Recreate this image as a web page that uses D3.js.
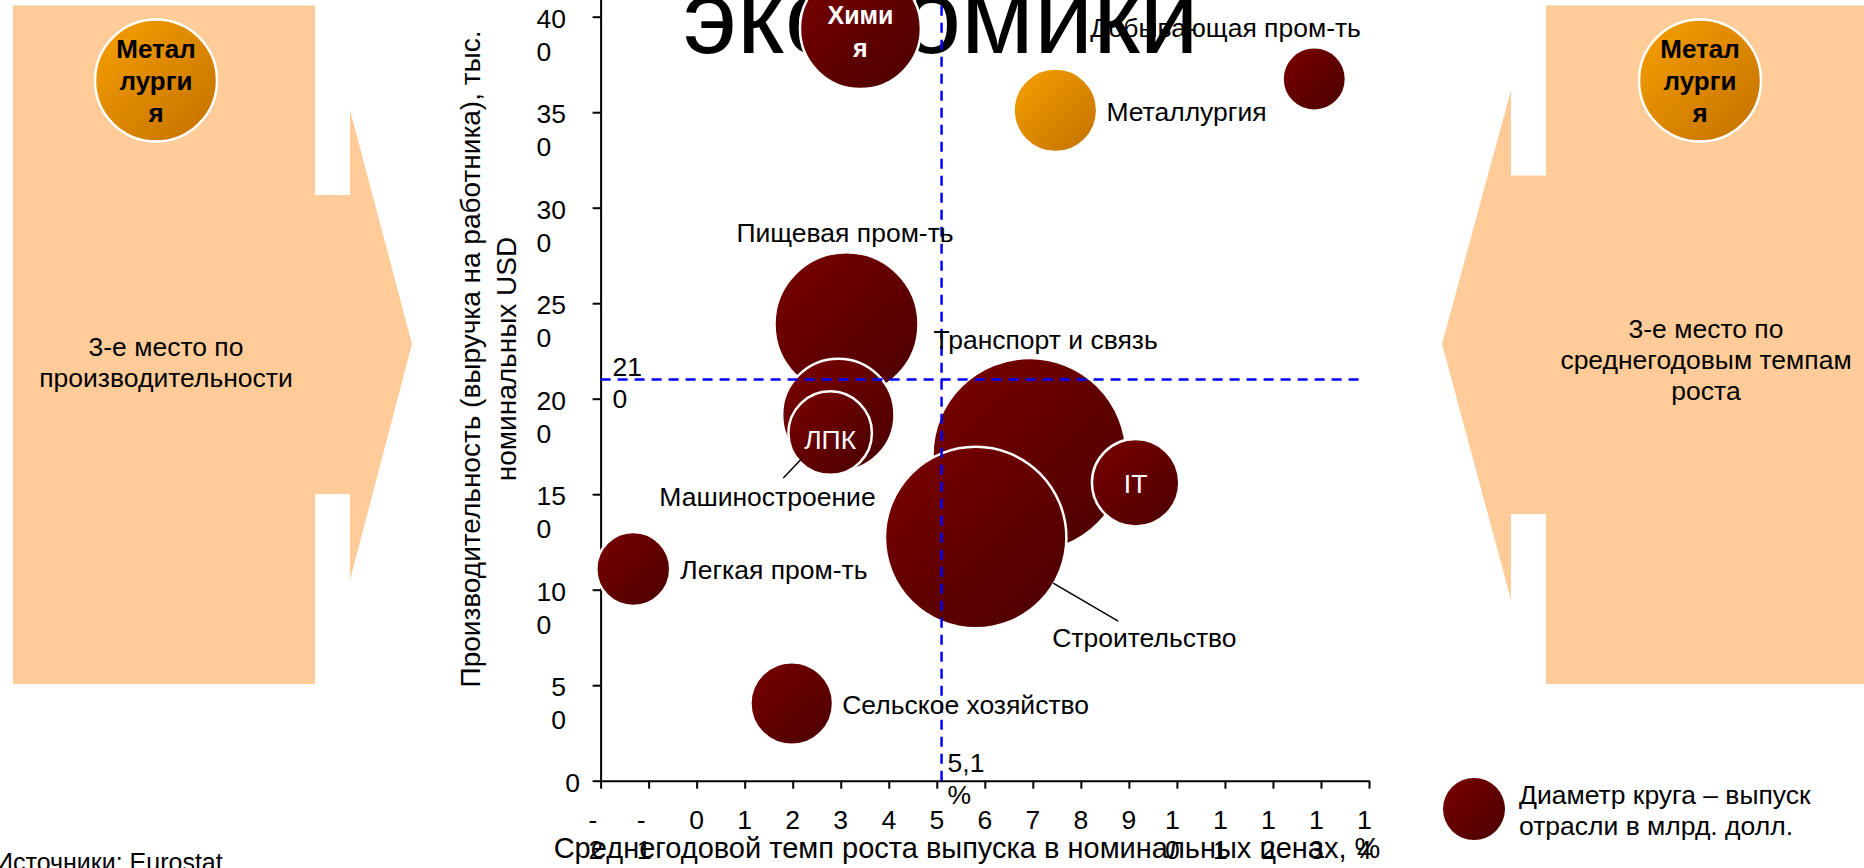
<!DOCTYPE html>
<html><head><meta charset="utf-8">
<script src="https://cdn.jsdelivr.net/npm/d3@7/dist/d3.min.js"></script>
<style>
html,body{margin:0;padding:0;background:#fff;overflow:hidden}
svg{display:block;font-family:"Liberation Sans",Arial,sans-serif}
</style>
</head><body>
<svg id="c" width="1864" height="868"></svg>
<script>
// ---------- DATA ----------
const sectors = ["Пищевая пром-ть","Машиностроение","ЛПК","Транспорт и связь","Строительство","IT",
                 "Химия","Металлургия","Добывающая пром-ть","Легкая пром-ть","Сельское хозяйство"];
const growth       = [3.12, 2.95, 2.78, 6.93, 5.81, 9.14, 3.41, 7.47, 12.86, -1.32, 1.98];   // %
const productivity = [239, 191.5, 182, 170.5, 127.3, 156, 393.8, 351, 367.4, 110.8, 40.4];   // тыс. USD
const output       = [75, 58.5, 43.5, 101, 94.5, 45.5, 63, 43.5, 33, 38.5, 43];              // млрд. долл. (диаметр)
const highlighted  = ["Металлургия"];
const xTickValues  = [-2,-1,0,1,2,3,4,5,6,7,8,9,10,11,12,13,14];
const yTickValues  = [0,50,100,150,200,250,300,350,400];
const avgGrowth = 5.1, avgGrowthLabel = ["5,1","%"];
const avgProd = 210, avgProdLabel = ["21","0"];

// ---------- LAYOUT ----------
const W = 1864, H = 868, FS = 26.5;
const svg = d3.select("#c");
const defs = svg.append("defs");
function grad(id, c1, c2){
  const g = defs.append("linearGradient").attr("id", id)
    .attr("x1",0).attr("y1",0).attr("x2",1).attr("y2",1);
  g.append("stop").attr("offset","0%").attr("stop-color",c1);
  g.append("stop").attr("offset","100%").attr("stop-color",c2);
}
grad("gRed", "#7a0000", "#4a0000");
grad("gOrange", "#f7a000", "#c27000");

svg.append("rect").attr("width",W).attr("height",H).attr("fill","#fff");

// title fragment (cut off at top of slide)
svg.append("text").attr("x",683).attr("y",53).attr("font-size",106).attr("fill","#000").text("экономики");

// side panels (arrows)
const panel = "#ffcc99";
svg.append("path").attr("fill",panel)
  .attr("d","M13,5.5H315V195H350V110L412,344L350,580V494H315V684H13Z");
svg.append("path").attr("fill",panel)
  .attr("d","M1864,5.5H1546V175.5H1511V90L1442,344L1511,600V514H1546V684H1864Z");

function multiline(g, lines, cx, cy0, lh, opts){
  lines.forEach((s,i)=>{
    g.append("text").attr("x",cx).attr("y",cy0+i*lh)
      .attr("text-anchor",opts.anchor||"middle").attr("dominant-baseline","central")
      .attr("font-size",opts.size||FS).attr("font-weight",opts.weight||"normal")
      .attr("fill",opts.fill||"#000").text(s);
  });
}
// panel badges
[156,1700].forEach(cx=>{
  svg.append("circle").attr("cx",cx).attr("cy",80.5).attr("r",61)
    .attr("fill","url(#gOrange)").attr("stroke","#fff").attr("stroke-width",2.5);
  multiline(svg,["Метал","лурги","я"],cx,49,32,{weight:"bold",size:26});
});
multiline(svg,["3-е место по","производительности"],166,347,31,{});
multiline(svg,["3-е место по","среднегодовым темпам","роста"],1706,329,31,{});

// ---------- SCALES ----------
const x = d3.scaleLinear().domain([-2,14]).range([600.6,1369]);
const y = d3.scaleLinear().domain([0,450]).range([780.7,780.7-450*1.91]);
const r = d3.scaleLinear().domain([0,100]).range([0,96]);   // radius

// axes
const gx = svg.append("g").attr("transform",`translate(0,${y(0)})`)
  .call(d3.axisBottom(x).tickValues(xTickValues).tickSize(8).tickSizeOuter(0).tickFormat(""));
const gy = svg.append("g").attr("transform",`translate(${x(-2)},0)`)
  .call(d3.axisLeft(y).tickValues(yTickValues).tickSize(8).tickSizeOuter(0).tickFormat(""));
[gx,gy].forEach(g=>{
  g.selectAll("path,line").attr("stroke","#000").attr("stroke-width",2);
});

// x tick labels (wrapped as in the original)
xTickValues.forEach(v=>{
  const s = String(v);
  if (s.length === 1) {
    multiline(svg,[s],x(v),820,30,{});
  } else {
    multiline(svg,[s.slice(0,1), s.slice(1)],x(v)-12,820,30,{anchor:"start"});
  }
});
// y tick labels
const digitW = 0.556*FS;
yTickValues.forEach(v=>{
  const s = String(v);
  if (s.length === 1) {
    multiline(svg,[s],580,y(v)+2,34,{anchor:"end"});
  } else {
    const a = s.slice(0,-1), b = s.slice(-1);
    multiline(svg,[a,b],566-a.length*digitW,y(v)+2,33,{anchor:"start"});
  }
});

// axis titles
svg.append("text").attr("x",967).attr("y",848).attr("text-anchor","middle")
  .attr("dominant-baseline","central").attr("font-size",29)
  .text("Среднегодовой темп роста выпуска в номинальных ценах, %");
const yt = svg.append("g").attr("transform","translate(470,359) rotate(-90)");
yt.append("text").attr("x",0).attr("y",0).attr("text-anchor","middle").attr("dominant-baseline","central")
  .attr("font-size",28).text("Производительность (выручка на работника), тыс.");
yt.append("text").attr("x",0).attr("y",36).attr("text-anchor","middle").attr("dominant-baseline","central")
  .attr("font-size",28).text("номинальных USD");

// ---------- BUBBLES ----------
const data = sectors.map((s,i)=>({name:s, gx:growth[i], py:productivity[i], out:output[i]}));
svg.append("g").selectAll("circle").data(data).join("circle")
  .attr("cx",d=>x(d.gx)).attr("cy",d=>y(d.py)).attr("r",d=>r(d.out))
  .attr("fill",d=>highlighted.includes(d.name)?"url(#gOrange)":"url(#gRed)")
  .attr("stroke","#fff").attr("stroke-width",2.5);

// average lines
svg.append("line").attr("x1",x(avgGrowth)).attr("x2",x(avgGrowth)).attr("y1",y(0)).attr("y2",0)
  .attr("stroke","#0000ff").attr("stroke-width",2.5).attr("stroke-dasharray","10,7");
svg.append("line").attr("x1",x(-2)).attr("x2",x(13.8)).attr("y1",y(avgProd)).attr("y2",y(avgProd))
  .attr("stroke","#0000ff").attr("stroke-width",2.5).attr("stroke-dasharray","10,7");
multiline(svg,avgGrowthLabel,x(avgGrowth)+6,763,32,{anchor:"start"});
multiline(svg,avgProdLabel,x(-2)+12,y(avgProd)-13,32,{anchor:"start"});

// ---------- LABELS ----------
// offsets relative to bubble centre (px)
const labelLayout = {
  "Пищевая пром-ть":    {dx:-110, dy:-91, anchor:"start"},
  "Машиностроение":     {dx:-179, dy:82, anchor:"start", leader:[-55,63,-37,44]},
  "ЛПК":                {dx:0, dy:7, anchor:"middle", fill:"#fff"},
  "Транспорт и связь":  {dx:-96, dy:-115, anchor:"start"},
  "Строительство":      {dx:76.5, dy:100.5, anchor:"start", leader:[77.5,45.5,142.5,83.5]},
  "IT":                 {dx:0, dy:1, anchor:"middle", fill:"#fff"},
  "Химия":              {dx:0, dy:-13.5, anchor:"middle", fill:"#fff", weight:"bold", size:25, lines:["Хими","я"]},
  "Металлургия":        {dx:51, dy:1.5, anchor:"start"},
  "Добывающая пром-ть": {dx:-224, dy:-51, anchor:"start"},
  "Легкая пром-ть":     {dx:47, dy:1, anchor:"start"},
  "Сельское хозяйство": {dx:50.5, dy:1.5, anchor:"start"}
};
data.forEach(d=>{
  const L = labelLayout[d.name], cx = x(d.gx), cy = y(d.py);
  if (L.leader) {
    svg.append("line").attr("x1",cx+L.leader[0]).attr("y1",cy+L.leader[1])
      .attr("x2",cx+L.leader[2]).attr("y2",cy+L.leader[3])
      .attr("stroke","#000").attr("stroke-width",1.5);
  }
  multiline(svg, L.lines||[d.name], cx+L.dx, cy+L.dy, 33,
    {anchor:L.anchor, fill:L.fill, weight:L.weight, size:L.size});
});

// legend
svg.append("circle").attr("cx",1474).attr("cy",809).attr("r",31).attr("fill","url(#gRed)");
multiline(svg,["Диаметр круга – выпуск","отрасли в млрд. долл."],1519,795,31,{anchor:"start"});

// source
svg.append("text").attr("x",-5).attr("y",871).attr("font-size",25).text("Источники: Eurostat");
</script>
</body></html>
